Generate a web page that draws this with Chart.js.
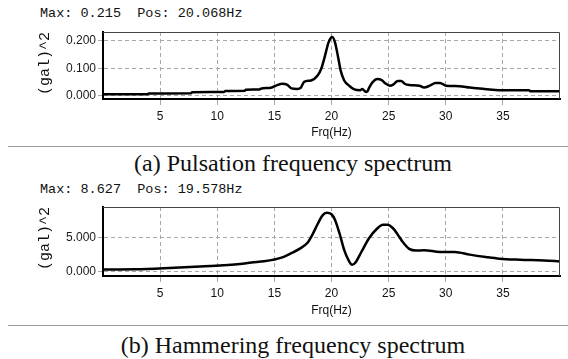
<!DOCTYPE html>
<html><head><meta charset="utf-8">
<script src="https://cdn.jsdelivr.net/npm/chart.js@4"></script>
<style>
html,body{margin:0;padding:0;background:#fff;width:568px;height:359px;overflow:hidden}
body{position:relative}
canvas{position:absolute;left:0}
.info{position:absolute;left:40px;font:13.5px "Liberation Mono",monospace;color:#111;white-space:pre;line-height:16px}
.sep{position:absolute;left:8px;width:560px;height:1px;background:#9a9a9a}
.cap{position:absolute;left:0;width:586px;text-align:center;font:24px "Liberation Serif",serif;color:#111;line-height:26px}
</style></head><body>
<div class="info" style="top:6px">Max: 0.215  Pos: 20.068Hz</div>
<canvas id="c1" width="568" height="145" style="top:0"></canvas>
<div class="sep" style="top:146px"></div>
<div class="cap" style="top:150px">(a) Pulsation frequency spectrum</div>
<div class="info" style="top:182px">Max: 8.627  Pos: 19.578Hz</div>
<canvas id="c2" width="568" height="145" style="top:175px"></canvas>
<div class="sep" style="top:325px"></div>
<div class="cap" style="top:332px">(b) Hammering frequency spectrum</div>
<script>
const freqTicks = [5, 10, 15, 20, 25, 30, 35];

const pulsationHz = [0, 3.9, 4.0, 7.7, 7.8, 10.6, 10.7, 12.4, 12.5, 13.7, 13.8, 14.7, 15.2, 15.7, 16.1, 16.5, 17.0, 17.3, 17.6, 18.2, 18.8, 19.1, 19.4, 19.75, 20.07, 20.3, 20.55, 20.8, 21.1, 21.6, 22.0, 22.5, 22.7, 22.9, 23.1, 23.3, 23.6, 24.0, 24.4, 24.7, 25.1, 25.4, 25.8, 26.1, 26.4, 26.8, 27.7, 28.1, 28.6, 29.1, 29.5, 30.0, 31.2, 32.1, 33.4, 34.7, 37.3, 37.4, 40];
const pulsationAmp = [0.004, 0.004, 0.007, 0.008, 0.012, 0.013, 0.016, 0.017, 0.021, 0.022, 0.025, 0.028, 0.037, 0.043, 0.040, 0.026, 0.024, 0.028, 0.050, 0.055, 0.074, 0.098, 0.141, 0.196, 0.215, 0.196, 0.147, 0.092, 0.056, 0.034, 0.022, 0.019, 0.024, 0.016, 0.013, 0.029, 0.049, 0.060, 0.056, 0.045, 0.036, 0.040, 0.053, 0.053, 0.043, 0.038, 0.036, 0.029, 0.036, 0.046, 0.046, 0.036, 0.034, 0.029, 0.024, 0.019, 0.019, 0.015, 0.015];
const pulsationYTicks = [0, 0.1, 0.2];

const hammerHz = [0, 2.8, 5.8, 8.5, 12, 13, 14.1, 15.7, 16.4, 17.2, 17.9, 18.3, 18.8, 19.2, 19.58, 20.0, 20.3, 20.7, 21.1, 21.5, 21.8, 22.1, 22.6, 23.3, 24.0, 24.5, 24.9, 25.4, 25.8, 26.2, 26.8, 27.4, 28.1, 29.5, 30.8, 32.1, 33.5, 34.7, 36.5, 38.6, 40];
const hammerAmp = [0.25, 0.28, 0.47, 0.7, 1.07, 1.3, 1.46, 2.05, 2.6, 3.3, 4.2, 5.3, 7.0, 8.2, 8.627, 8.4, 7.6, 5.6, 3.2, 1.6, 0.96, 1.3, 2.8, 4.9, 6.3, 6.85, 6.85, 6.3, 5.4, 4.4, 3.3, 3.05, 3.1, 2.85, 2.85, 2.45, 2.1, 1.85, 1.7, 1.6, 1.45];
const hammerYTicks = [0, 5];

const frame = {
  id: 'frame',
  afterDatasetsDraw(chart) {
    const {ctx, chartArea: a} = chart;
    ctx.save();
    ctx.strokeStyle = '#444';
    ctx.lineWidth = 1;
    ctx.beginPath();
    ctx.moveTo(a.left, a.top + 0.5);
    ctx.lineTo(a.right - 0.5, a.top + 0.5);
    ctx.lineTo(a.right - 0.5, a.bottom);
    ctx.stroke();
    ctx.restore();
  }
};

function makeChart(id, xs, ys, yMin, yMax, yTicks, xAxisHeight, titlePad) {
  const grid = {color: '#a8a8a8', tickColor: '#a8a8a8', lineWidth: 1, tickLength: 6};
  return new Chart(document.getElementById(id), {
    type: 'line',
    data: {datasets: [{
      data: xs.map((x, i) => ({x: x, y: ys[i]})),
      borderColor: '#000', borderWidth: 2.5, pointRadius: 0,
      cubicInterpolationMode: 'monotone', fill: false
    }]},
    options: {
      responsive: false, animation: false, devicePixelRatio: 1,
      layout: {padding: {top: 32, right: 8, left: 0, bottom: 0}},
      plugins: {legend: {display: false}, tooltip: {enabled: false}},
      scales: {
        x: {
          type: 'linear', min: 0, max: 40,
          afterBuildTicks: s => { s.ticks = freqTicks.map(v => ({value: v})); },
          afterFit: s => { s.height = xAxisHeight; },
          grid: grid,
          border: {display: true, color: '#000', width: 2, dash: [4, 3]},
          ticks: {color: '#111', font: {family: 'Liberation Sans', size: 12}, padding: 4, maxRotation: 0, autoSkip: false},
          title: {display: true, text: 'Frq(Hz)', color: '#111', font: {family: 'Liberation Sans', size: 12}, padding: {top: 0, bottom: titlePad}}
        },
        y: {
          type: 'linear', min: yMin, max: yMax,
          afterBuildTicks: s => { s.ticks = yTicks.map(v => ({value: v})); },
          afterFit: s => { s.width = 103; },
          grid: Object.assign({}, grid, {tickLength: 5}),
          border: {display: true, color: '#000', width: 2, dash: [4, 3]},
          ticks: {color: '#1a1a1a', font: {family: 'Liberation Sans', size: 12}, padding: 2, callback: v => v.toFixed(3)},
          title: {display: true, text: '(gal)^2', align: 'end', color: '#111', font: {family: 'Liberation Mono', size: 15}, padding: {top: 36, bottom: 0}}
        }
      }
    },
    plugins: [frame]
  });
}

makeChart('c1', pulsationHz, pulsationAmp, -0.013, 0.233, pulsationYTicks, 46, 5);
makeChart('c2', hammerHz, hammerAmp, -0.7, 9.47, hammerYTicks, 44, 2);
</script>
</body></html>
